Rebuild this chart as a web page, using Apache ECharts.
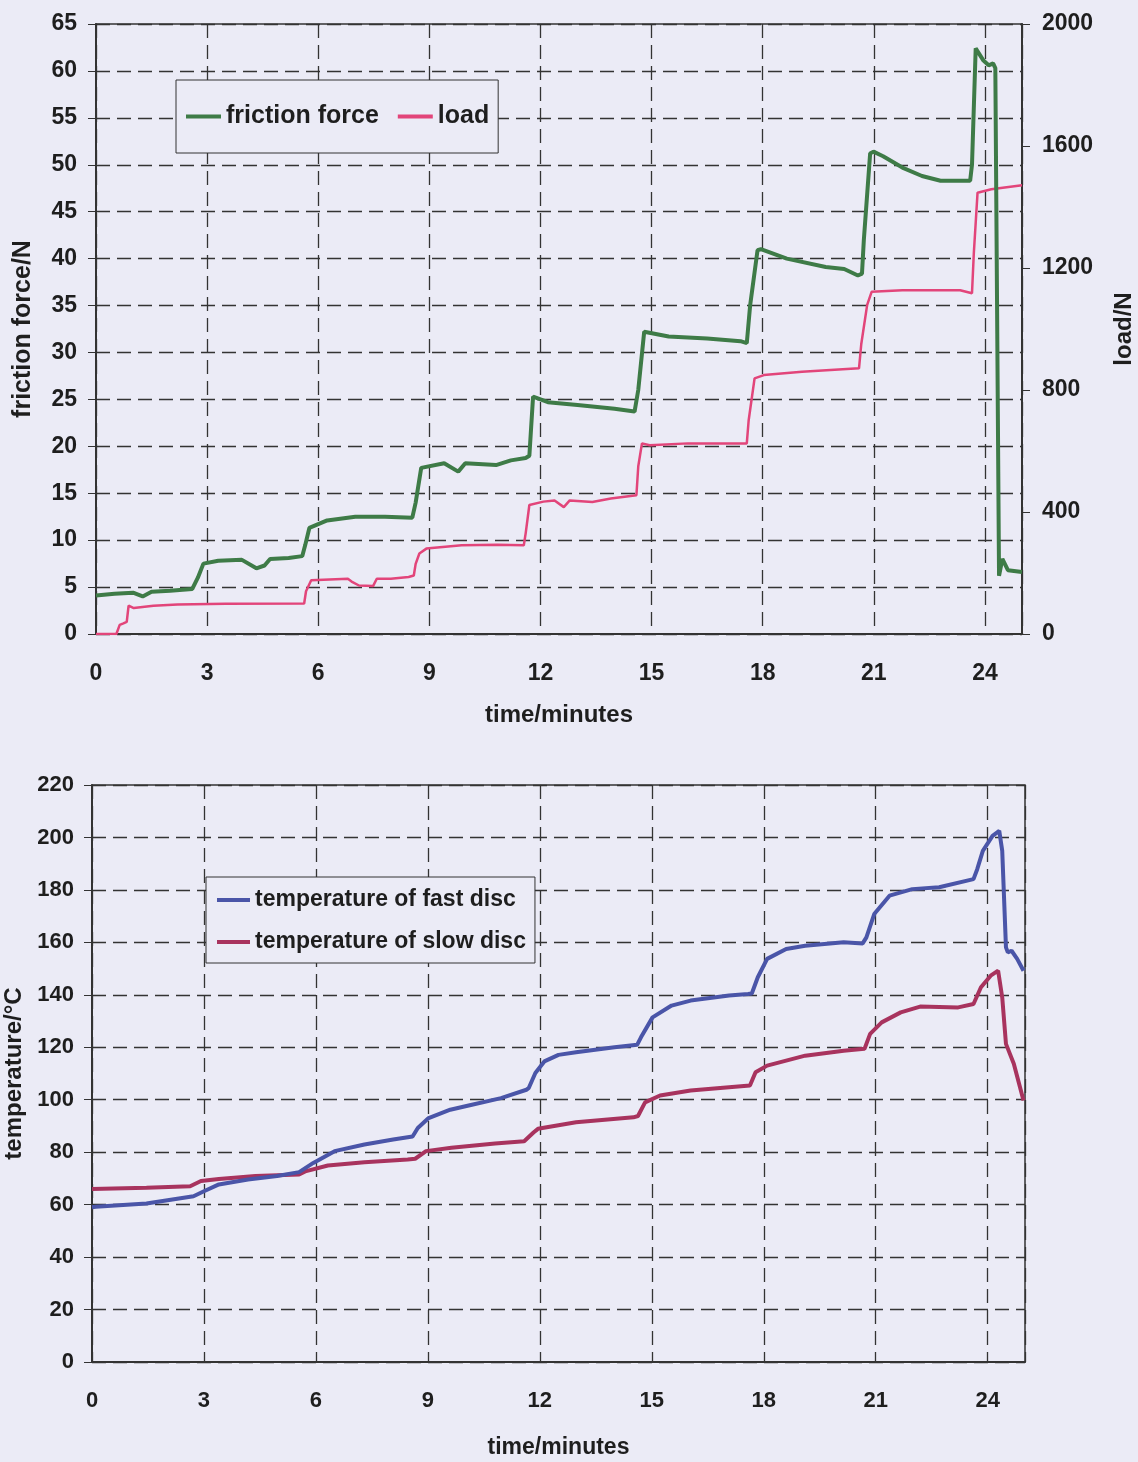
<!DOCTYPE html>
<html>
<head>
<meta charset="utf-8">
<script src="https://cdn.jsdelivr.net/npm/echarts@6/dist/echarts.min.js"></script>
<style>
html,body{margin:0;padding:0;background:#EBEBF6;}
#c{width:1138px;height:1462px;}
</style>
</head>
<body>
<div id="c"></div>
<script>
// ---- Data ----
const xTicks = [0, 3, 6, 9, 12, 15, 18, 21, 24];

const frictionTime = [0.0,0.5,1.0,1.26,1.5,2.0,2.6,2.75,2.9,3.3,3.94,4.33,4.55,4.7,5.2,5.57,5.65,5.76,6.24,7.0,7.8,8.54,8.63,8.78,9.4,9.78,9.97,10.8,11.2,11.6,11.7,11.8,12.2,13.0,14.0,14.54,14.64,14.8,15.46,16.5,17.4,17.57,17.66,17.86,17.95,18.65,19.7,20.2,20.57,20.68,20.73,20.9,20.99,21.25,21.77,22.3,22.8,23.6,23.65,23.75,23.96,24.1,24.22,24.28,24.38,24.47,24.62,25.0];
const frictionForce = [4.1,4.3,4.4,4.0,4.5,4.6,4.8,6.0,7.5,7.8,7.9,7.0,7.3,8.0,8.1,8.3,9.5,11.3,12.1,12.5,12.5,12.4,14.0,17.7,18.2,17.3,18.2,18.0,18.5,18.75,19.0,25.3,24.7,24.4,24.0,23.7,26.0,32.2,31.7,31.5,31.2,31.0,35.0,40.9,41.0,40.0,39.1,38.9,38.2,38.4,42.0,51.2,51.4,50.9,49.7,48.8,48.3,48.3,50.0,62.4,61.1,60.6,60.8,60.3,6.2,8.0,6.8,6.6];

const loadTime = [0,0.55,0.64,0.74,0.83,0.88,1.02,1.55,2.2,3.5,5.62,5.67,5.81,5.86,6.8,6.9,7.1,7.48,7.58,7.96,8.44,8.58,8.63,8.73,8.92,9.87,10.83,11.55,11.6,11.7,12.08,12.38,12.63,12.79,13.4,13.9,14.59,14.64,14.74,14.95,15.98,17.57,17.62,17.78,18.03,19.06,20.6,20.66,20.82,20.94,21.77,23.33,23.65,23.7,23.8,24.17,25.0];
const loadN = [0,0,30,35,40,93,85,93,97,99,100,140,176,181,181,172,159,157,181,181,187,192,230,264,280,291,293,291,330,423,434,438,416,438,433,444,455,550,625,619,625,625,700,838,849,860,871,950,1079,1122,1127,1127,1117,1250,1447,1458,1471];

const fastTime = [0.0,0.1,1.46,2.72,3.0,3.4,4.18,4.96,5.55,5.93,6.5,7.3,8.07,8.59,8.73,9.02,9.6,10.18,10.96,11.64,11.7,11.88,12.12,12.5,12.97,14.0,14.61,14.71,15.02,15.53,16.04,17.07,17.58,17.68,17.84,18.09,18.6,19.11,20.14,20.65,20.75,20.96,21.37,21.98,22.7,23.62,23.72,23.87,24.13,24.31,24.39,24.49,24.54,24.64,24.79,24.96];
const fastTemp = [59.0,59.2,60.4,63.2,65.1,67.7,69.6,70.9,72.4,75.9,80.4,82.9,84.8,86.0,89.2,93.0,96.2,98.1,100.6,103.8,104.4,110.2,114.6,117.1,118.1,120.0,121.0,123.8,131.4,135.9,137.8,139.7,140.3,140.5,146.7,153.7,157.5,158.7,160.0,159.6,161.9,170.8,177.8,180.3,181.0,184.1,187.9,194.9,200.6,202.5,194.9,158.1,156.2,156.8,153.7,149.2];

const slowTime = [0.0,1.46,2.63,2.92,3.4,4.38,5.55,5.74,6.32,7.3,8.46,8.66,8.95,9.63,10.8,11.58,11.83,11.95,12.5,12.97,14.51,14.63,14.82,15.22,16.04,17.07,17.63,17.78,18.09,19.11,20.14,20.7,20.85,21.16,21.67,22.19,23.21,23.62,23.82,24.08,24.28,24.39,24.49,24.7,24.96];
const slowTemp = [66.0,66.4,67.0,69.0,69.8,70.9,71.5,72.8,74.9,76.2,77.2,77.5,80.4,81.7,83.3,84.2,87.5,88.9,90.3,91.4,93.3,93.8,99.0,101.6,103.5,104.8,105.4,110.5,113.0,116.8,118.7,119.4,125.1,129.5,133.3,135.5,135.2,136.5,142.9,147.3,149.2,139.0,121.3,113.7,99.7];

const seriesNames = ['friction force', 'load', 'temperature of fast disc', 'temperature of slow disc'];

// ---- Build ----
const pairs = (t, v) => t.map((x, i) => [x, v[i]]);
const FONT = 'Liberation Sans, Arial, sans-serif';
const BG = '#EBEBF6';
const TXT = '#1E1E1E';
const gridLine = { show: true, lineStyle: { type: [14, 7], color: '#333', width: 1.3 } };
const axisLine = { show: true, lineStyle: { color: '#333', width: 2 } };
const plain = v => String(v);

function xAxis(gi, size, nameGap, nameSize) {
  return {
    gridIndex: gi, type: 'value', min: 0, max: 25, interval: 3,
    axisLine: axisLine, axisTick: { show: false },
    axisLabel: { showMaxLabel: false, margin: 28, fontSize: size, fontWeight: 'bold', color: TXT, fontFamily: FONT,
      formatter: v => xTicks.indexOf(v) >= 0 ? String(v) : '' },
    splitLine: gridLine,
    name: 'time/minutes', nameLocation: 'middle', nameGap: nameGap,
    nameTextStyle: { fontSize: nameSize, fontWeight: 'bold', color: TXT, fontFamily: FONT }
  };
}

const chart = echarts.init(document.getElementById('c'), null, { renderer: 'canvas' });
chart.setOption({
  backgroundColor: BG,
  animation: false,
  grid: [
    { left: 96, top: 24, width: 926, height: 610, outerBoundsMode: 'none', containLabel: false, show: true, borderColor: '#333', borderWidth: 1.5, backgroundColor: 'transparent' },
    { left: 92, top: 785, width: 933, height: 577, outerBoundsMode: 'none', containLabel: false, show: true, borderColor: '#333', borderWidth: 1.5, backgroundColor: 'transparent' }
  ],
  legend: [
    {
      data: [seriesNames[0], seriesNames[1]], left: 176, top: 80,
      padding: [24, 9, 24, 10], itemWidth: 35, itemHeight: 4, itemGap: 19, icon: 'rect',
      borderColor: '#333', borderWidth: 1, backgroundColor: BG,
      textStyle: { fontSize: 25, fontWeight: 'bold', color: TXT, fontFamily: FONT, lineHeight: 24 }
    },
    {
      data: [seriesNames[2], seriesNames[3]], left: 206, top: 877, orient: 'vertical',
      padding: [11, 9, 9, 11], itemWidth: 33, itemHeight: 4, itemGap: 18, icon: 'rect',
      borderColor: '#333', borderWidth: 1, backgroundColor: BG,
      textStyle: { fontSize: 23, fontWeight: 'bold', color: TXT, fontFamily: FONT, lineHeight: 24 }
    }
  ],
  xAxis: [ xAxis(0, 23, 69, 24), xAxis(1, 22, 74, 23) ],
  yAxis: [
    {
      gridIndex: 0, type: 'value', min: 0, max: 65, interval: 5, position: 'left',
      axisLine: axisLine, axisTick: { show: true, length: 8, lineStyle: { color: '#333' } },
      axisLabel: { margin: 19, fontSize: 23, fontWeight: 'bold', color: TXT, fontFamily: FONT, formatter: plain },
      splitLine: gridLine,
      name: 'friction force/N', nameLocation: 'middle', nameGap: 60, nameRotate: 90,
      nameTextStyle: { fontSize: 25, fontWeight: 'bold', color: TXT, fontFamily: FONT }
    },
    {
      gridIndex: 0, type: 'value', min: 0, max: 2000, interval: 400, position: 'right',
      axisLine: axisLine, axisTick: { show: true, length: 8, lineStyle: { color: '#333' } },
      axisLabel: { margin: 20, fontSize: 23, fontWeight: 'bold', color: TXT, fontFamily: FONT, formatter: plain },
      splitLine: { show: false },
      name: 'load/N', nameLocation: 'middle', nameGap: 90, nameRotate: 90,
      nameTextStyle: { fontSize: 24, fontWeight: 'bold', color: TXT, fontFamily: FONT }
    },
    {
      gridIndex: 1, type: 'value', min: 0, max: 220, interval: 20, position: 'left',
      axisLine: axisLine, axisTick: { show: true, length: 8, lineStyle: { color: '#333' } },
      axisLabel: { margin: 18, fontSize: 22, fontWeight: 'bold', color: TXT, fontFamily: FONT, formatter: plain },
      splitLine: gridLine,
      name: 'temperature/°C', nameLocation: 'middle', nameGap: 56, nameRotate: 90,
      nameTextStyle: { fontSize: 24, fontWeight: 'bold', color: TXT, fontFamily: FONT }
    }
  ],
  series: [
    { name: seriesNames[0], type: 'line', xAxisIndex: 0, yAxisIndex: 0, symbol: 'none', data: pairs(frictionTime, frictionForce),
      itemStyle: { color: '#3E7B47' }, lineStyle: { color: '#3E7B47', width: 4 }, z: 3 },
    { name: seriesNames[1], type: 'line', xAxisIndex: 0, yAxisIndex: 1, symbol: 'none', data: pairs(loadTime, loadN),
      itemStyle: { color: '#E2457A' }, lineStyle: { color: '#E2457A', width: 2.5 }, z: 2 },
    { name: seriesNames[2], type: 'line', xAxisIndex: 1, yAxisIndex: 2, symbol: 'none', data: pairs(fastTime, fastTemp),
      itemStyle: { color: '#4A55A8' }, lineStyle: { color: '#4A55A8', width: 4 }, z: 3 },
    { name: seriesNames[3], type: 'line', xAxisIndex: 1, yAxisIndex: 2, symbol: 'none', data: pairs(slowTime, slowTemp),
      itemStyle: { color: '#A8335E' }, lineStyle: { color: '#A8335E', width: 4 }, z: 2 }
  ]
});
</script>
</body>
</html>
